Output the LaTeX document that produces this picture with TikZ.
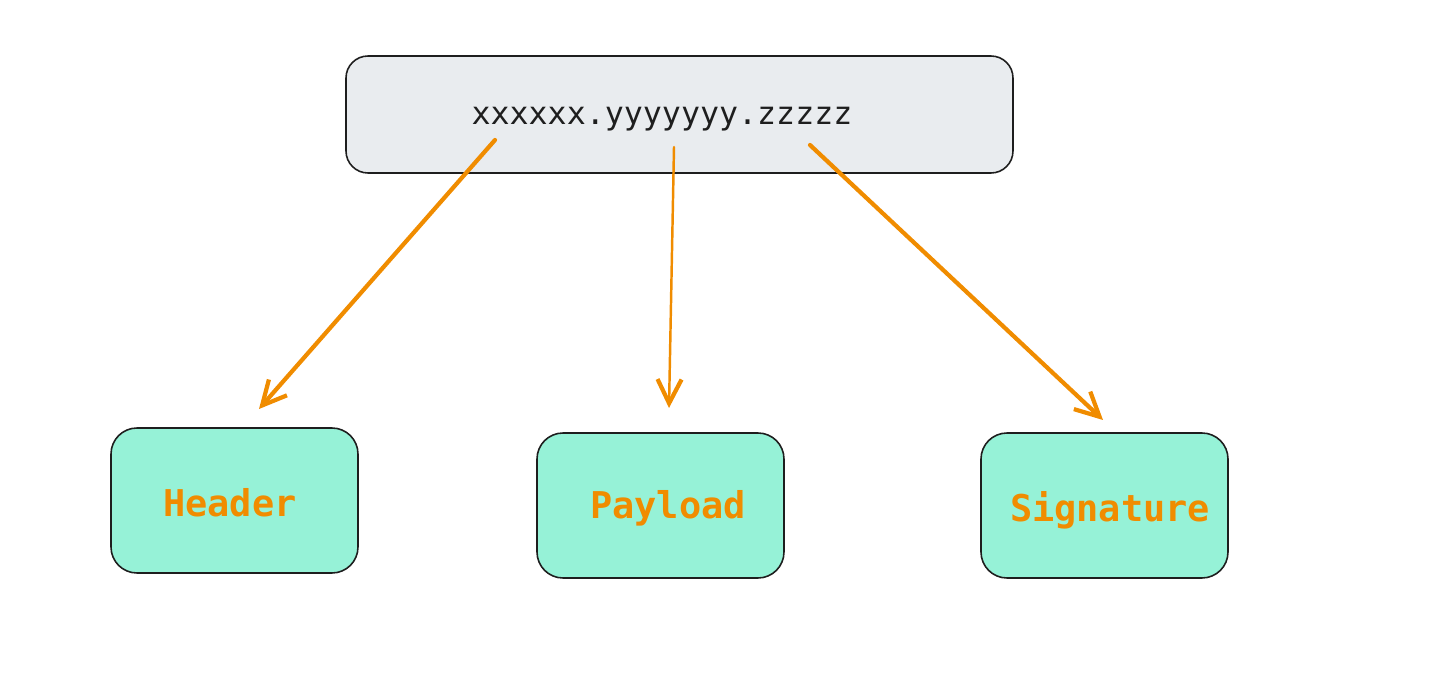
\documentclass[tikz,border=0pt]{standalone}
\usepackage{fontspec}
\setmonofont{DejaVu Sans Mono}
\usetikzlibrary{arrows.meta}
\usetikzlibrary{positioning}

\definecolor{tokengray}{HTML}{E9ECEF}
\definecolor{partgreen}{HTML}{96F2D7}
\definecolor{linkorange}{HTML}{F08C00}
\definecolor{inkblack}{HTML}{1E1E1E}

\tikzset{
  tokenbox/.style={draw=inkblack,fill=tokengray,line width=0.45pt,rounded corners=2.2mm,
    minimum width=66.7mm,minimum height=11.7mm,inner sep=0pt},
  tokentext/.style={font=\ttfamily\fontsize{9}{11}\selectfont,text=inkblack,inner sep=0pt},
  partbox/.style={draw=inkblack,fill=partgreen,line width=0.45pt,rounded corners=2.6mm,
    minimum width=24.7mm,minimum height=14.5mm,inner sep=0pt},
  partlabel/.style={font=\ttfamily\bfseries\fontsize{10.5}{12}\selectfont,text=linkorange,inner sep=0pt},
  link/.style={draw=linkorange,line width=1.2pt,line cap=round,
    -{Straight Barb[length=2.4mm,width=2.4mm,line width=1.2pt]}},
  thinlink/.style={link,line width=0.7pt}
}

\begin{document}
\begin{tikzpicture}[x=0.1mm,y=-0.1mm]
\useasboundingbox (0,0) rectangle (1450,675);

% token
\node[tokenbox] (token) at (679.5,114.5) {};
\node[tokentext] (tokentxt) at (662,119) {xxxxxx.yyyyyyy.zzzzz};

% parts
\node[partbox] (header) at (234.5,500.5) {};
\node[partlabel] (headertxt) at (230,503) {Header};
\node[partbox] (payload) at (660.5,505.5) {};
\node[partlabel] (payloadtxt) at (668,508) {Payload};
\node[partbox] (signature) at (1104.5,505.5) {};
\node[partlabel] (signaturetxt) at (1110,510) {Signature};

% arrow ends
\coordinate (hdr-from) at (495,140);
\coordinate (hdr-to) at (259,409);
\coordinate (pay-from) at (674,147);
\coordinate (pay-to) at (669,408);
\coordinate (sig-from) at (810,145);
\coordinate (sig-to) at (1103,420);

\draw[link] (hdr-from) -- (hdr-to);
\draw[thinlink] (pay-from) -- (pay-to);
\draw[link] (sig-from) -- (sig-to);

\end{tikzpicture}
\end{document}
